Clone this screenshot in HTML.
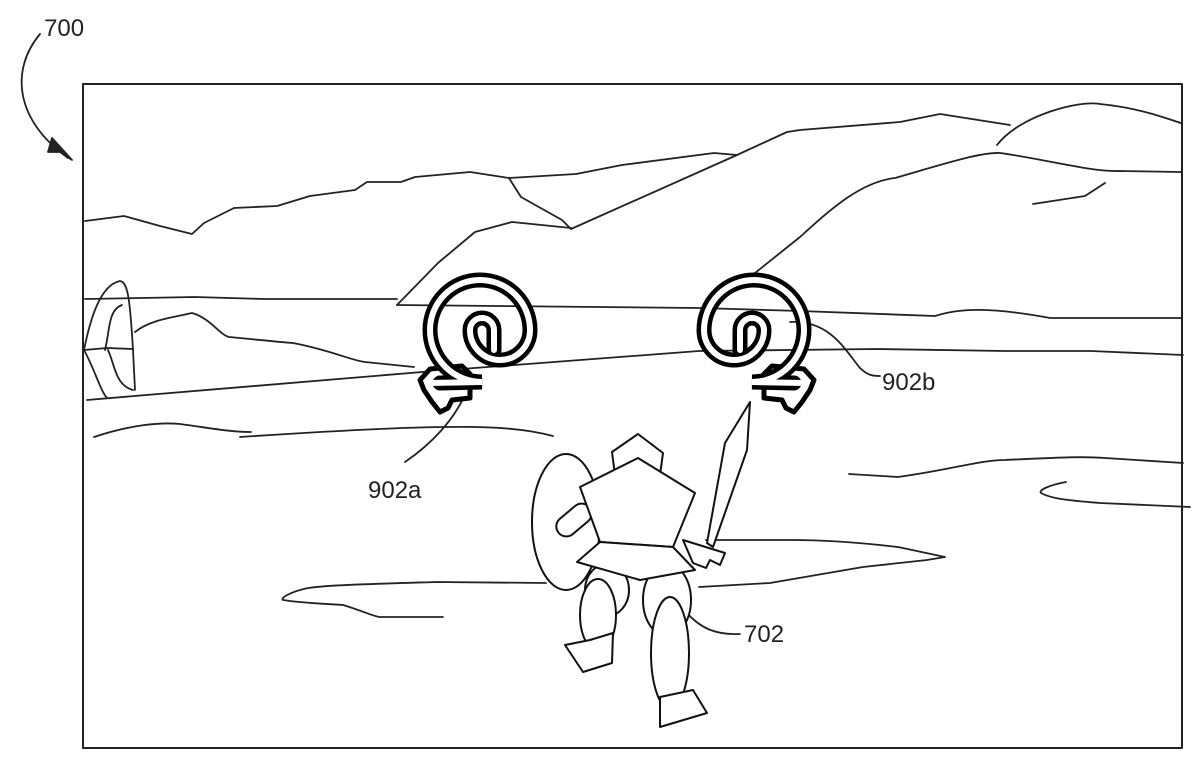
<!DOCTYPE html>
<html><head><meta charset="utf-8"><style>
html,body{margin:0;padding:0;background:#fff;}
svg{display:block;}
text{font-family:"Liberation Sans",sans-serif;font-size:24px;fill:#222;}
</style></head><body>
<svg width="1200" height="766" viewBox="0 0 1200 766" xmlns="http://www.w3.org/2000/svg">
<defs>
<g id="spiral">
  <path d="M430,369 L462,366 L470,374 L470,398 L452,400 L448,408 L440,412 L432,402 L424,390 L420,380 Z" fill="#fff" stroke="#000" stroke-width="5" stroke-linejoin="round"/>
  <path d="M494,350 L494,330 A12,12 0 0 0 470,330 A30,30 0 0 0 530,330 A50,50 0 0 0 430,330 A52,52 0 0 0 482,382 L440,383" fill="none" stroke="#000" stroke-width="15" stroke-linecap="round"/>
  <path d="M494,350 L494,330 A12,12 0 0 0 470,330 A30,30 0 0 0 530,330 A50,50 0 0 0 430,330 A52,52 0 0 0 482,382 L430,383" fill="none" stroke="#fff" stroke-width="6" stroke-linecap="round"/>
</g>
</defs>
<g fill="none" stroke="#222" stroke-width="1.8" stroke-linejoin="round" stroke-linecap="round">
  <path d="M40,34 C10,70 15,120 68,158"/>
  <path d="M52,138 L72,160 L60,152 L48,152 Z" fill="#222"/>
  <rect x="83" y="84" width="1099" height="664" stroke-width="2"/>
  <path d="M85,221 L124,216 L160,226 L192,234 L204,223 L234,208 L277,206 L310,196 L355,190 L367,182 L401,182 L415,177 L470,172 L509,178 L576,174 L622,165 L714,153 L737,155 L787,132 L800,130 L900,122 L940,114 L1010,125"/>
  <path d="M509,178 L521,197 L562,220 L571,229"/>
  <path d="M737,155 L571,229"/>
  <path d="M397,305 L438,263 L475,232 L512,222 L571,228"/>
  <path d="M997,145 C1020,115 1080,100 1100,104 C1140,108 1165,118 1181,123"/>
  <path d="M750,277 L800,237 C830,210 860,182 895,178 C940,165 980,152 1000,153 C1050,160 1090,172 1120,171 L1181,172"/>
  <path d="M1033,204 L1085,196 L1105,183"/>
  <path d="M85,299 L195,297 L264,299 L397,299"/>
  <path d="M397,305 L700,308 L800,311 L935,316 C960,308 990,307 1050,318 L1181,318"/>
  <path d="M87,400 L422,372 L699,351 L877,349 L1005,351 L1091,351 L1183,355"/>
  <path d="M84,350 C90,320 100,285 120,281 C128,282 130,300 133,350"/>
  <path d="M105,350 C110,330 108,310 122,305"/>
  <path d="M84,350 L107,348 L133,349"/>
  <path d="M84,350 C95,370 100,390 107,398 M108,350 C115,365 115,385 133,390 M133,350 L135,390"/>
  <path d="M135,332 C150,320 170,318 192,313 C210,318 220,335 229,337 C260,340 280,342 293,343 C330,350 350,360 365,362 L414,367"/>
  <path d="M94,437 C130,425 160,422 180,424 C210,428 230,432 251,432"/>
  <path d="M240,437 C300,433 400,427 450,427 C500,426 530,430 553,436"/>
  <path d="M849,474 L898,477 C950,470 980,460 1005,460 C1050,458 1080,456 1105,458 L1183,463"/>
  <path d="M1066,482 C1050,485 1038,490 1041,493 C1050,498 1062,500 1100,503 L1190,507"/>
  <path d="M706,540 C740,540 770,540 792,540 C840,540 880,545 898,547 L945,557 L927,560 C900,563 880,565 863,567 L770,583 L699,587"/>
  <path d="M546,583 L436,582 C370,584 330,585 308,588 C290,592 280,598 283,600 C300,603 330,604 343,605 C360,610 370,615 379,617 L443,617"/>
  <path d="M467,390 C455,420 430,445 405,462"/>
  <path d="M790,322 C830,320 845,350 860,368 C868,376 874,376 880,376"/>
  <path d="M686,612 C700,628 715,635 740,634"/>
</g>
<use href="#spiral"/>
<use href="#spiral" transform="translate(1234,0) scale(-1,1)"/>
<g fill="#fff" stroke="#111" stroke-width="2" stroke-linejoin="round">
  <ellipse cx="566" cy="522" rx="34" ry="68"/>
  <path d="M612,452 L638,434 L663,453 L660,475 L615,475 Z"/>
  <path d="M750,402 L725,443 L707,543 L713,547 L747,450 Z"/>
  <ellipse cx="667" cy="600" rx="24" ry="36"/>
  <ellipse cx="607" cy="590" rx="22" ry="26"/>
  <ellipse cx="598" cy="615" rx="18" ry="36"/>
  <path d="M565,645 L583,672 L612,663 L613,633 L590,640 Z"/>
  <ellipse cx="670" cy="653" rx="19" ry="56"/>
  <path d="M660,697 L660,727 L707,713 L693,690 Z"/>
  <rect x="554" y="510" width="40" height="20" rx="10" transform="rotate(-40 574 520)"/>
  <path d="M580,487 L638,458 L695,493 L673,547 L600,542 Z"/>
  <path d="M577,562 L600,542 L673,547 L695,570 L640,580 Z"/>
  <path d="M683,540 L725,553 L720,565 L710,560 L706,568 L693,563 Z"/>
</g>
<text x="44" y="36">700</text>
<text x="368" y="498">902a</text>
<text x="882" y="390">902b</text>
<text x="744" y="642">702</text>
</svg>
</body></html>
